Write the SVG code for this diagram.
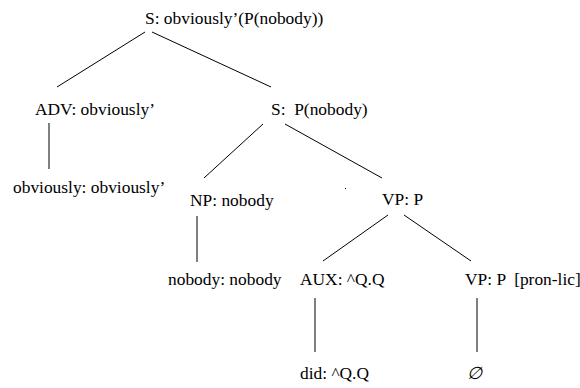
<svg xmlns="http://www.w3.org/2000/svg" width="580" height="388" viewBox="0 0 580 388">
<style>
.edge { stroke: #000; stroke-width: 1; fill: none; }
</style>
<rect width="580" height="388" fill="#fff"/>
<g id="connectors">
<line class="edge" x1="145" y1="32" x2="57" y2="87"/>
<line class="edge" x1="152" y1="32" x2="271" y2="87"/>
<line class="edge" x1="49" y1="123" x2="49" y2="169"/>
<line class="edge" x1="263" y1="124" x2="204" y2="178"/>
<line class="edge" x1="285" y1="124" x2="382" y2="178"/>
<line class="edge" x1="197" y1="216" x2="197" y2="262"/>
<line class="edge" x1="388" y1="215" x2="323" y2="261"/>
<line class="edge" x1="404" y1="215" x2="471" y2="261"/>
<line class="edge" x1="315" y1="298" x2="315" y2="352"/>
<line class="edge" x1="477" y1="298" x2="477" y2="352"/>
<rect x="345" y="188" width="1" height="1" fill="#000"/>
</g>
<g font-family="'Liberation Serif', serif" font-size="17.4" fill="#000">
<g id="n-root"><text x="145" y="24">S: obviously’(P(nobody))</text></g>
<g id="n-adv"><text x="35" y="115">ADV: obviously’</text></g>
<g id="n-s"><text x="271" y="115" xml:space="preserve">S:  P(nobody)</text></g>
<g id="n-obviously"><text x="13" y="193">obviously: obviously’</text></g>
<g id="n-np"><text x="190" y="206">NP: nobody</text></g>
<g id="n-vp"><text x="382" y="205">VP: P</text></g>
<g id="n-nobody"><text x="168" y="285">nobody: nobody</text></g>
<g id="n-aux"><text x="300" y="285">AUX: ^Q.Q</text></g>
<g id="n-vp2"><text x="465" y="285" xml:space="preserve">VP: P  [pron-lic]</text></g>
<g id="n-did"><text x="300" y="379">did: ^Q.Q</text></g>
<g id="n-empty"><text x="467" y="379" font-style="italic">∅</text></g>
</g>
</svg>
